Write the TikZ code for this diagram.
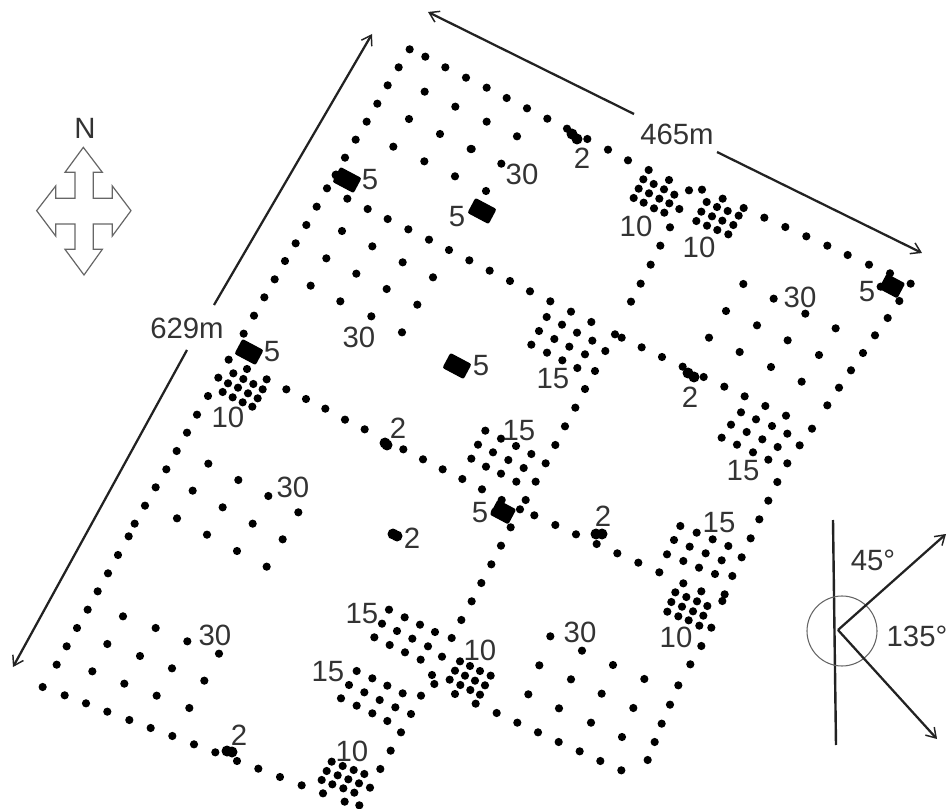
\documentclass[tikz,border=0pt]{standalone}
\usepackage{fontspec}
\setmainfont{Liberation Sans}
\usetikzlibrary{arrows.meta}
\definecolor{ink}{HTML}{333333}
\definecolor{linec}{HTML}{222222}
\definecolor{soft}{HTML}{666666}
\newcommand{\dotset}[3]{\foreach \a/\b in {#3}{\fill[black] ({#1+\a/3},{#2+\b/3}) circle (4.1);}}
\tikzset{
  lbl/.style={text=ink,inner sep=0pt,font=\fontsize{22}{24}\selectfont},
  conn/.style={draw=linec,line width=1.7pt,-{Straight Barb[length=7pt,width=9pt,line width=1.1pt]}},
  bigblob/.style={fill=black,rounded corners=1.5pt},
}
\begin{document}
\begin{tikzpicture}[x=0.75pt,y=-0.75pt]
\useasboundingbox (0,0) rectangle (947,809);
% zoom-1 region
\dotset{0}{0}{1229/148,1196/202,1163/256,1132/311,1100/365,1067/419,1035/473,981/565,950/620,919/675,887/730,855/783,824/838,793/892,762/947,731/1001,686/1079,655/1133,624/1188,
1276/170,1336/202,1398/233,
1274/275,1366/320,1227/357,1320/402,1180/440,1412/447,1273/484,1365/529,
1042/596,1103/627,1163/657,1225/688,1287/719,1347/750,1408/781,
1026/693,1117/739,979/775,1208/787,1069/821,1299/832,932/857,1160/867,1021/904,1252/914,1114/949,1206/997,
741/1107,700/1120,730/1137,760/1152,800/1138,684/1150,714/1163,744/1180,788/1168,668/1176,698/1192,728/1207,773/1195,757/1220,
859/1168,918/1197,976/1226}
% zoom-2 region
\dotset{470}{0}{50/263,110/294,171/325,232/356,291/386,352/417,414/449,474/481,536/510,
50/365,141/409,5/447,94/491,48/573,
520/538,551/552,582/568,597/540,506/566,537/580,568/596,613/584,491/594,521/608,552/625,598/610,583/638,628/627,
657/571,696/569,
710/606,758/596,741/621,773/633,694/635,726/649,757/662,806/647,821/624,679/663,711/677,742/690,790/675,775/703,
883/653,946/681,1009/709,1072/737,1133/765,1197/794,
1253/954,1215/1006,1179/1059,1143/1111,1107/1163,
600/682,571/737,542/794,512/851,483/905,
59/812,120/843,180/874,241/904,
303/935,364/966,230/951,276/974,321/998,367/1022,207/993,253/1017,298/1040,345/1063,184/1034,231/1058,277/1081,322/1104,375/1113,345/1167,406/1053,
435/1003,455/1013,515/1042,576/1071,638/1100,701/1131,763/1160,824/1189,
820/852,911/896,768/933,1006/941,861/976,1097/985,717/1013,953/1021,809/1056,1047/1065,903/1101,995/1145}
% zoom-3 region
\dotset{0}{400}{591/44,561/98,530/153,499/208,467/262,435/317,404/371,386/409,354/465,324/520,293/574,263/629,231/684,200/739,170/794,128/861,
194/886,258/910,322/935,388/960,452/984,517/1008,582/1033,646/1057,711/1083,775/1106,840/1131,905/1156,
1035/59,1094/88,1210/148,1269/178,1328/208,1387/237,1384/660,
1167/629,1214/652,1260/674,1305/696,1146/671,1191/693,1237/716,1284/739,1355/714,1123/712,1169/735,1215/757,1262/779,1326/770,
1296/825,1303/852,
1070/813,1117/835,1162/857,1208/880,1047/855,1093/877,1139/900,1186/922,1263/887,1023/895,1070/917,1117/940,1162/963,1233/942,1203/997,1172/1052,1141/1107,
995/1085,1028/1098,1061/1110,1093/1122,980/1113,1013/1126,1045/1138,1077/1150,1110/1163,965/1140,997/1153,1030/1165,1063/1178,969/1180,1034/1205,1078/1216,
625/191,715/240,805/288,895/337,578/272,668/322,758/371,848/418,531/355,621/404,711/453,800/500,
369/649,467/684,562/724,657/761,322/732,420/768,516/805,613/842,277/814,373/851,470/887,568/924,
1380/784,1410/798,1365/812,1395/827,1349/839,1381/855,1411/870,1365/882}
% zoom-4 region
\dotset{470}{400}{886/18,813/37,948/47,858/58,783/74,906/78,830/96,952/101,755/113,877/118,801/134,923/141,849/157,989/136,895/179,952/190,922/246,895/302,868/358,842/415,1026/86,1072/16,
316/23,285/79,256/135,227/190,
46/92,93/116,24/134,138/138,69/157,184/162,4/176,115/180,48/200,161/204,93/221,139/245,197/245,36/268,
193/346,256/375,318/403,380/432,442/460,505/488,568/517,
93/437,64/493,34/549,5/604,
631/378,680/398,612/420,728/418,659/440,775/438,591/463,707/460,640/483,755/481,815/472,687/503,735/522,787/528,
640/550,694/574,616/577,649/591,681/604,604/606,636/620,669/634,712/618,592/635,625/649,656/661,700/647,688/677,724/683,764/583,757/603,694/738,661/793,625/856,600/914,575/971,554/1026,533/1080,
454/1111,391/1083,329/1054,266/1026,204/997,142/968,80/939,
241/709,336/752,208/796,429/795,303/838,523/837,175/883,395/881,267/925,490/924,363/968,456/1011,
30/813,62/827,15/842,45/856,30/884,17/911}
% large rectangular markers
\foreach \cx/\cy in {347/180,249/352,457/366,482/211}{
  \fill[bigblob,rotate around={-28:(\cx,\cy)}] (\cx-12,\cy-8.5) rectangle (\cx+12,\cy+8.5);
}
\fill (336,175) circle (4.5);
% irregular markers
\foreach \cx/\cy in {892/286,503/512}{
  \fill[bigblob,rotate around={-28:(\cx,\cy)}] (\cx-10.5,\cy-8.5) rectangle (\cx+10.5,\cy+8.5);
}
\dotset{470}{0}{1260/820,1322/851,1288/903,1232/860}
\dotset{470}{400}{95/300,150/328,167/300,122/382,75/335}
% small markers
\foreach \cx/\cy in {572/134,577/139,688/373,694/377,385/443,387/445,393/534,397/536,227/751,232/752,596/534,602/534}{
  \fill (\cx,\cy) circle (5.5);
}
% labels
\node[lbl] (n) at (85,128) {N};
\node[lbl] (w) at (187,328) {629m};
\node[lbl] (l) at (677,134) {465m};
\node[lbl] (t1) at (370,180) {5};
\node[lbl] (t2) at (457,217) {5};
\node[lbl] (t3) at (522,174) {30};
\node[lbl] (t4) at (582,158) {2};
\node[lbl] (t5) at (636,226) {10};
\node[lbl] (t6) at (699,247) {10};
\node[lbl] (t7) at (800,297) {30};
\node[lbl] (t8) at (867,292) {5};
\node[lbl] (t9) at (272,352) {5};
\node[lbl] (t10) at (359,337) {30};
\node[lbl] (t11) at (481,366) {5};
\node[lbl] (t12) at (553,379) {15};
\node[lbl] (t13) at (690,397) {2};
\node[lbl] (t14) at (228,417) {10};
\node[lbl] (t15) at (398,428) {2};
\node[lbl] (t16) at (519,431) {15};
\node[lbl] (t17) at (743,471) {15};
\node[lbl] (t18) at (293,487) {30};
\node[lbl] (t19) at (480,513) {5};
\node[lbl] (t20) at (603,516) {2};
\node[lbl] (t21) at (719,523) {15};
\node[lbl] (t22) at (412,538) {2};
\node[lbl] (t23) at (873,560) {45°};
\node[lbl] (t24) at (917,636) {135°};
\node[lbl] (t25) at (676,637) {10};
\node[lbl] (t26) at (580,632) {30};
\node[lbl] (t27) at (215,635) {30};
\node[lbl] (t28) at (362,614) {15};
\node[lbl] (t29) at (480,650) {10};
\node[lbl] (t30) at (328,672) {15};
\node[lbl] (t31) at (239,735) {2};
\node[lbl] (t32) at (352,751) {10};
% dimension arrows
\coordinate (wtop) at (372,34);
\coordinate (wbot) at (13,667);
\coordinate (ltop) at (428,12);
\coordinate (lbot) at (922,253);
\coordinate (w1) at (214,305);
\coordinate (w2) at (187,350);
\coordinate (l1) at (634,114);
\coordinate (l2) at (717,152);
\draw[conn] (w1) -- (wtop);
\draw[conn] (w2) -- (wbot);
\draw[conn] (l1) -- (ltop);
\draw[conn] (l2) -- (lbot);
% angle diagram
\coordinate (vt) at (833,520);
\coordinate (vb) at (836,745);
\coordinate (o) at (838,630);
\coordinate (a45) at (946,534);
\coordinate (a135) at (937,739);
\draw[linec,line width=1.8pt] (vt) -- (vb);
\draw[soft,line width=0.8pt] (842,631) circle (35);
\draw[conn] (o) -- (a45);
\draw[conn] (o) -- (a135);
% north cross
\draw[soft,line width=0.9pt,line join=miter,fill=white,x=0.25pt,y=-0.25pt]
 (250,442) -- (307,517) -- (280,517) -- (280,595) -- (337,595) -- (337,558) -- (393,632) -- (337,708) -- (337,672) -- (280,672) -- (280,748) -- (307,748) -- (252,825) -- (195,748) -- (225,748) -- (225,672) -- (167,672) -- (167,708) -- (110,632) -- (167,558) -- (167,595) -- (225,595) -- (225,517) -- (195,517) -- cycle;
\end{tikzpicture}
\end{document}
